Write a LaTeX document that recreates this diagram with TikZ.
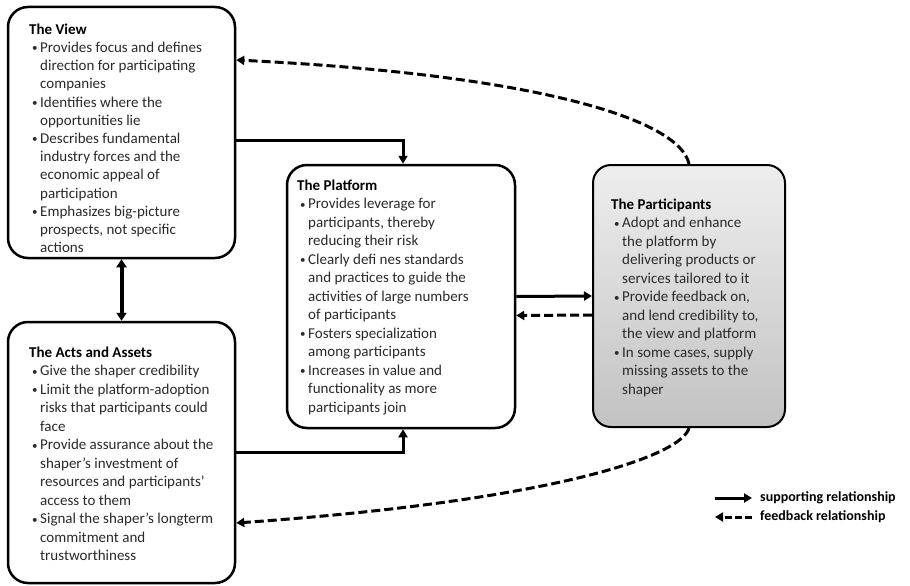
\documentclass[tikz,border=0pt]{standalone}
\usepackage{fontspec}
\setmainfont{Carlito}
\usetikzlibrary{arrows.meta}
\definecolor{bodytext}{HTML}{2A2A2A}
\definecolor{parttop}{HTML}{EEEEEE}
\definecolor{partbot}{HTML}{C2C2C2}
% bullet and continuation indent for the box lists
\newcommand\bitem{\hspace*{3pt}\makebox[8pt][l]{\raisebox{0.5pt}{\fontsize{11}{11}\selectfont\textbullet}}}
\newcommand\cont{\hspace*{11pt}}
\newcommand\boxtitle[1]{{\color{black}\bfseries #1}}
\begin{document}
\begin{tikzpicture}[x=1pt,y=-1pt,
  panel/.style={draw=black, line width=2.5pt, rounded corners=20pt, fill=white, inner sep=0pt},
  listtext/.style={anchor=north west, inner sep=0pt, align=left, text=bodytext,
    font=\fontsize{15}{18.5}\selectfont},
  sup/.style={line width=3pt, -{Triangle[length=8pt,width=9pt]}},
  fb/.style={line width=3pt, dash pattern=on 9pt off 4pt, -{Triangle[length=8pt,width=9pt]}},
  legendtext/.style={anchor=west, inner sep=0pt, font=\fontsize{14}{16}\selectfont\bfseries}]
\useasboundingbox (0,0) rectangle (910,586);

% the four panels
\node[panel, minimum width=227pt, minimum height=251pt] (view) at (121.5,132.5) {};
\node[panel, minimum width=227pt, minimum height=261pt] (acts) at (121.5,452.5) {};
\node[panel, minimum width=228pt, minimum height=263pt] (platform) at (401,296.5) {};
\node[panel, minimum width=192pt, minimum height=262pt, fill=none, line width=2pt,
      top color=parttop, bottom color=partbot, rounded corners=18pt] (parts) at (689,296) {};

% panel texts
\node[listtext, font=\fontsize{15}{18.2}\selectfont] (viewtxt) at (29,23.5) {\boxtitle{The View}\\
\bitem Provides focus and defines\\
\cont direction for participating\\
\cont companies\\
\bitem Identifies where the\\
\cont opportunities lie\\
\bitem Describes fundamental\\
\cont industry forces and the\\
\cont economic appeal of\\
\cont participation\\
\bitem Emphasizes big-picture\\
\cont prospects, not specific\\
\cont actions};

\node[listtext] (actstxt) at (29,346.5) {\boxtitle{The Acts and Assets}\\
\bitem Give the shaper credibility\\
\bitem Limit the platform-adoption\\
\cont risks that participants could\\
\cont face\\
\bitem Provide assurance about the\\
\cont shaper’s investment of\\
\cont resources and participants’\\
\cont access to them\\
\bitem Signal the shaper’s longterm\\
\cont commitment and\\
\cont trustworthiness};

\node[listtext] (platformtxt) at (297,179.5) {\boxtitle{The Platform}\\
\bitem Provides leverage for\\
\cont participants, thereby\\
\cont reducing their risk\\
\bitem Clearly defi nes standards\\
\cont and practices to guide the\\
\cont activities of large numbers\\
\cont of participants\\
\bitem Fosters specialization\\
\cont among participants\\
\bitem Increases in value and\\
\cont functionality as more\\
\cont participants join};

\node[listtext] (partstxt) at (611,198.5) {\boxtitle{The Participants}\\
\bitem Adopt and enhance\\
\cont the platform by\\
\cont delivering products or\\
\cont services tailored to it\\
\bitem Provide feedback on,\\
\cont and lend credibility to,\\
\cont the view and platform\\
\bitem In some cases, supply\\
\cont missing assets to the\\
\cont shaper};

% supporting relationships
\draw[line width=4pt, {Triangle[length=8pt,width=10pt]}-{Triangle[length=8pt,width=10pt]}] (view.south) -- (acts.north);
\draw[sup] ([yshift=-7.5pt]view.east) -| ([xshift=2pt]platform.north);
\draw[sup] (acts.east) -| ([xshift=2pt]platform.south);
\draw[sup] (platform.east) -- (parts.west);

% feedback relationships
\draw[fb] ([yshift=-19pt]parts.west) -- ([yshift=-19pt]platform.east);
\draw[fb] (parts.north) .. controls (680,120) and (540,75) .. ([yshift=72.5pt]view.east);
\draw[fb] (parts.south) .. controls (682,455) and (560,500) .. ([yshift=-70.5pt]acts.east);

% legend
\node[legendtext] (legsup) at (760,498) {supporting relationship};
\node[legendtext] (legfb) at (760,517) {feedback relationship};
\coordinate (legsupstart) at (715,498);
\coordinate (legfbend) at (715,517);
\draw[sup] (legsupstart) -- ([xshift=-8pt]legsup.west);
\draw[fb, dash pattern=on 7pt off 3pt] ([xshift=-8pt]legfb.west) -- (legfbend);
\end{tikzpicture}
\end{document}
